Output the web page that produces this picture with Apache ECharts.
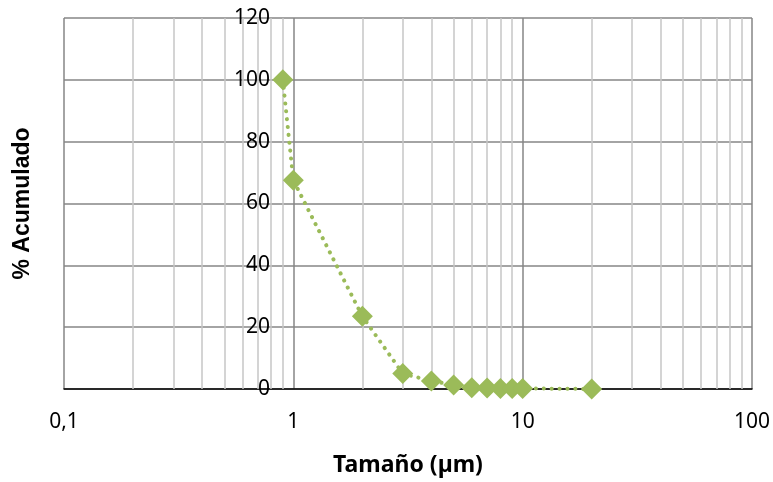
<!DOCTYPE html>
<html>
<head>
<meta charset="utf-8">
<script src="https://cdn.jsdelivr.net/npm/echarts@6/dist/echarts.min.js"></script>
<style>
  html, body { margin: 0; padding: 0; background: #fff; }
  #chart { width: 773px; height: 482px; }
</style>
</head>
<body>
<div id="chart"></div>
<script>
// particle size (um) vs cumulative %
const sizes = [0.9, 1, 2, 3, 4, 5, 6, 7, 8, 9, 10, 20];
const cumulative = [100, 67.5, 23.5, 5, 2.6, 1.3, 0.4, 0.3, 0.2, 0.2, 0.2, 0];
// minor vertical gridlines of the log axis
const minorGrid = [0.2, 0.3, 0.4, 0.5, 0.6, 0.7, 0.8, 0.9, 2, 3, 4, 5, 6, 7, 8, 9, 20, 30, 40, 50, 60, 70, 80, 90];

const chart = echarts.init(document.getElementById('chart'));
const green = '#9BBB59';
const font = 'Noto Sans';

chart.setOption({
  animation: false,
  grid: { left: 64, right: 21, top: 18, bottom: 92 },
  xAxis: {
    type: 'log',
    logBase: 10,
    min: 0.1,
    max: 100,
    name: 'Tamaño (µm)',
    nameLocation: 'middle',
    nameGap: 65,
    nameTextStyle: { fontFamily: font, fontWeight: 'bold', fontSize: 23, color: '#000' },
    axisLine: { show: true, lineStyle: { color: '#000', width: 1.5 } },
    axisTick: { show: false },
    axisLabel: {
      margin: 23,
      fontFamily: font, fontSize: 21, color: '#000',
      formatter: v => String(v).replace('.', ',')
    },
    splitLine: { show: true, lineStyle: { color: '#868686', width: 1.5 } }
  },
  yAxis: {
    type: 'value',
    min: 0,
    max: 120,
    interval: 20,
    offset: -218,
    name: '% Acumulado',
    nameLocation: 'middle',
    nameGap: 248,
    nameTextStyle: { fontFamily: 'Liberation Sans', fontWeight: 'bold', fontSize: 23, color: '#000' },
    axisLine: { show: false },
    axisTick: { show: false },
    axisLabel: { margin: 12, fontFamily: font, fontSize: 21, color: '#000' },
    splitLine: { show: true, lineStyle: { color: '#868686', width: 1.5 } }
  },
  series: [{
    type: 'line',
    data: sizes.map((s, i) => [s, cumulative[i]]),
    symbol: 'diamond',
    symbolSize: 21,
    itemStyle: { color: green },
    lineStyle: { color: green, width: 4, type: [0.1, 7.8], cap: 'round' },
    markLine: {
      silent: true,
      symbol: 'none',
      label: { show: false },
      lineStyle: { color: '#c6c6c6', width: 1.5, type: 'solid' },
      data: minorGrid.map(v => ({ xAxis: v }))
    },
    z: 5
  }]
});
</script>
</body>
</html>
